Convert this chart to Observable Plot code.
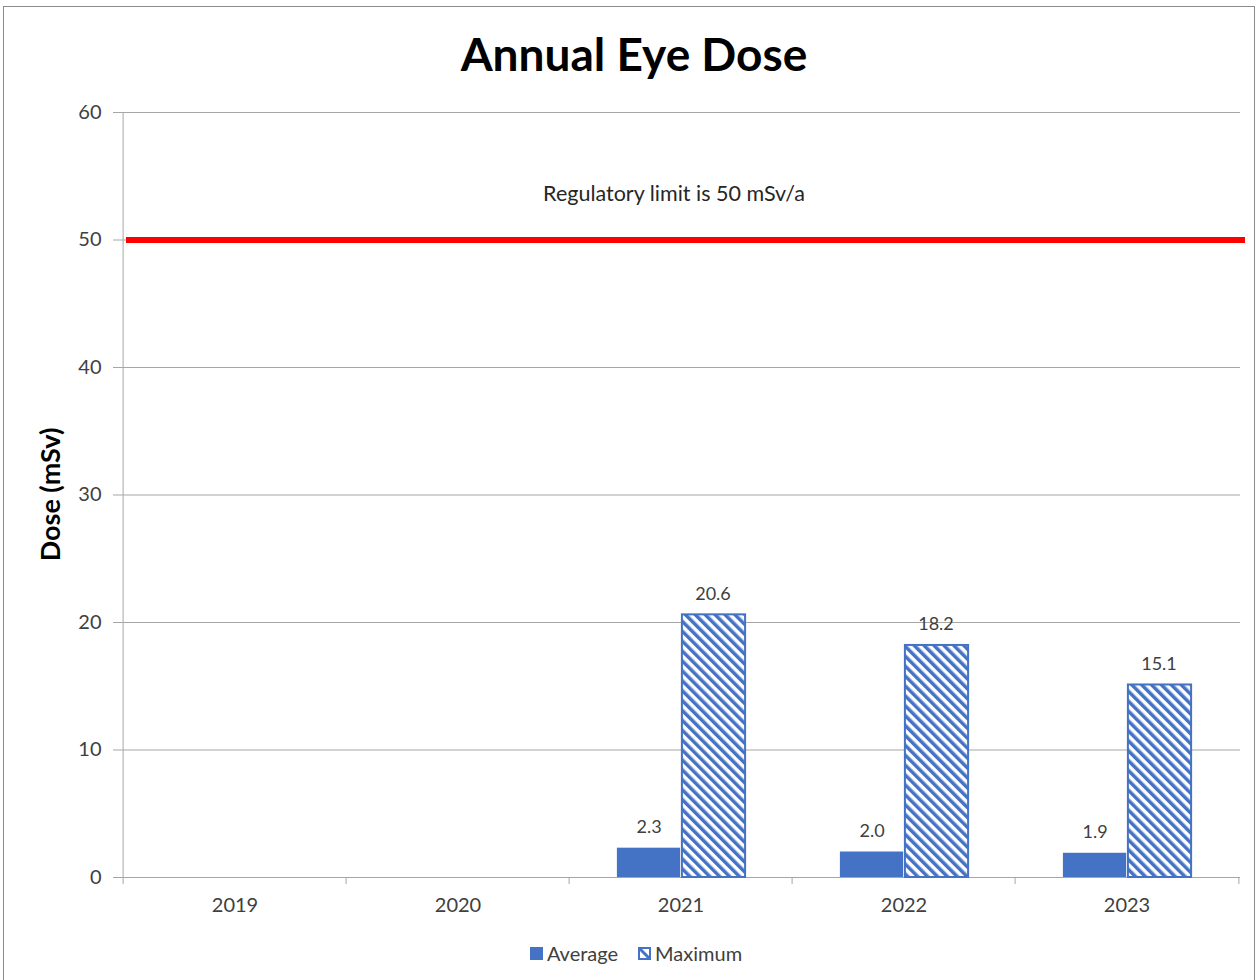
<!DOCTYPE html>
<html>
<head>
<meta charset="utf-8">
<script src="https://cdn.jsdelivr.net/npm/d3@7"></script>
<script src="https://cdn.jsdelivr.net/npm/@observablehq/plot@0.6"></script>
<style>
  html, body { margin: 0; padding: 0; background: #fff; }
  #wrap { position: relative; width: 1260px; height: 980px; overflow: hidden; font-family: Lato, "Open Sans", sans-serif; background: #fff; }
  #frame { position: absolute; left: 3px; top: 6px; width: 1252px; height: 990px; border: 1px solid #8c8c8c; box-sizing: border-box; }
  #title { position: absolute; top: 26px; left: 0; width: 1268px; text-align: center; font-size: 46px; font-weight: 700; color: #000; }
  #chart { position: absolute; left: 0; top: 90px; }
  #legend { position: absolute; top: 941px; left: 0; width: 1272px; display: flex; justify-content: center; align-items: center; font-size: 20px; color: #404040; }
  .item { display: flex; align-items: center; margin: 0 10px; }
  .item svg { margin-right: 4px; }
</style>
</head>
<body>
<div id="wrap">
  <div id="frame"></div>
  <div id="title">Annual Eye Dose</div>
  <div id="chart"></div>
  <div id="legend"></div>
</div>
<script>
// ---- data ----
const years = ["2019", "2020", "2021", "2022", "2023"];
const averageDose = [null, null, 2.3, 2.0, 1.9];
const maximumDose = [null, null, 20.6, 18.2, 15.1];
const averageLabels = ["", "", "2.3", "2.0", "1.9"];
const maximumLabels = ["", "", "20.6", "18.2", "15.1"];
const yTicks = [0, 10, 20, 30, 40, 50, 60];
const limitValue = 50;
const limitLabel = "Regulatory limit is 50 mSv/a";
const seriesNames = ["Average", "Maximum"];
const yLabel = "Dose (mSv)";

// ---- layout ----
const W = 1260, H = 850;
const mL = 121, mR = 20, mT = 22, mB = 63;
const BW = (W - mL - mR) / years.length;
const barW = 64, outerPad = (BW - 2 * barW) / 2;
const blue = "#4472C4";
const gridColor = "#a6a6a6";
const textColor = "#404040";

const rows = years.map((y, i) => ({
  year: y, avg: averageDose[i], max: maximumDose[i],
  avgLabel: averageLabels[i], maxLabel: maximumLabels[i]
}));
const withData = rows.filter(d => d.avg != null);

const chart = Plot.plot({
  width: W, height: H,
  marginLeft: mL, marginRight: mR, marginTop: mT, marginBottom: mB,
  style: { fontFamily: "Lato, 'Open Sans', sans-serif", background: "transparent", overflow: "visible" },
  x: { domain: years, type: "band", padding: 0 },
  y: { domain: [0, 60], ticks: yTicks },
  marks: [
    Plot.gridY(yTicks.filter(t => t > 0), { stroke: gridColor, strokeOpacity: 1 }),
    Plot.axisY({ ticks: yTicks, tickSize: 8, tickPadding: 12, fontSize: 20, color: textColor, stroke: gridColor, label: null, tickFormat: d => String(d) }),
    Plot.axisX({ tickSize: 0, tickPadding: 20, fontSize: 20, color: textColor, label: null }),
    // x axis baseline
    Plot.ruleY([0], { stroke: gridColor, insetLeft: -8 }),
    // y axis line
    Plot.ruleX([years[0]], { dx: -BW / 2, y1: 0, y2: 60, stroke: gridColor }),
    // category boundary ticks
    Plot.ruleX(years, { x: d => d, dx: -BW / 2, y1: 0, y2: 0, insetBottom: -7, stroke: gridColor }),
    Plot.ruleX([years[years.length - 1]], { dx: BW / 2, y1: 0, y2: 0, insetBottom: -7, stroke: gridColor }),
    // bars
    Plot.barY(withData, { x: "year", y: "avg", fill: blue, insetLeft: outerPad, insetRight: BW - outerPad - barW }),
    Plot.barY(withData, { x: "year", y: "max", fill: "url(#hatch)", stroke: blue, strokeWidth: 2, insetLeft: outerPad + barW + 1, insetRight: outerPad - 1 }),
    Plot.text(withData, { x: "year", y: "avg", text: "avgLabel", dx: -(barW / 2), dy: -21, fontSize: 18, fill: textColor }),
    Plot.text(withData, { x: "year", y: "max", text: "maxLabel", dx: barW / 2, dy: -21, fontSize: 18, fill: textColor }),
    // regulatory limit
    Plot.ruleY([limitValue], { stroke: "red", strokeWidth: 6, dx: 5 }),
    Plot.text([limitLabel], { frameAnchor: "top", y: limitValue, text: d => d, dy: -54, dx: -7, fontSize: 21.5, fill: "#262626" })
  ]
});

const svg = d3.select(chart);
svg.insert("defs", ":first-child").html(
  `<pattern id="hatch" patternUnits="userSpaceOnUse" width="7" height="7" patternTransform="rotate(-45)">
     <rect width="7" height="7" fill="white"/>
     <line x1="1.75" y1="0" x2="1.75" y2="7" stroke="${blue}" stroke-width="3.5"/>
   </pattern>`);
svg.append("text")
  .attr("transform", `translate(53, ${mT + (H - mT - mB) / 2}) rotate(-90)`)
  .attr("text-anchor", "middle")
  .attr("dominant-baseline", "middle")
  .attr("font-size", 27)
  .attr("font-weight", 700)
  .attr("fill", "#000")
  .text(yLabel);

document.getElementById("chart").appendChild(chart);

// legend
const legend = d3.select("#legend");
seriesNames.forEach((name, i) => {
  const item = legend.append("div").attr("class", "item");
  const s = item.append("svg").attr("width", 13).attr("height", 13);
  if (i === 0) {
    s.append("rect").attr("width", 13).attr("height", 13).attr("fill", blue);
  } else {
    s.append("rect").attr("x", 1).attr("y", 1).attr("width", 11).attr("height", 11).attr("fill", "white").attr("stroke", blue).attr("stroke-width", 2);
    s.append("line").attr("x1", 1).attr("y1", 1).attr("x2", 12).attr("y2", 12).attr("stroke", blue).attr("stroke-width", 3);
  }
  item.append("span").text(name);
});
</script>
</body>
</html>
